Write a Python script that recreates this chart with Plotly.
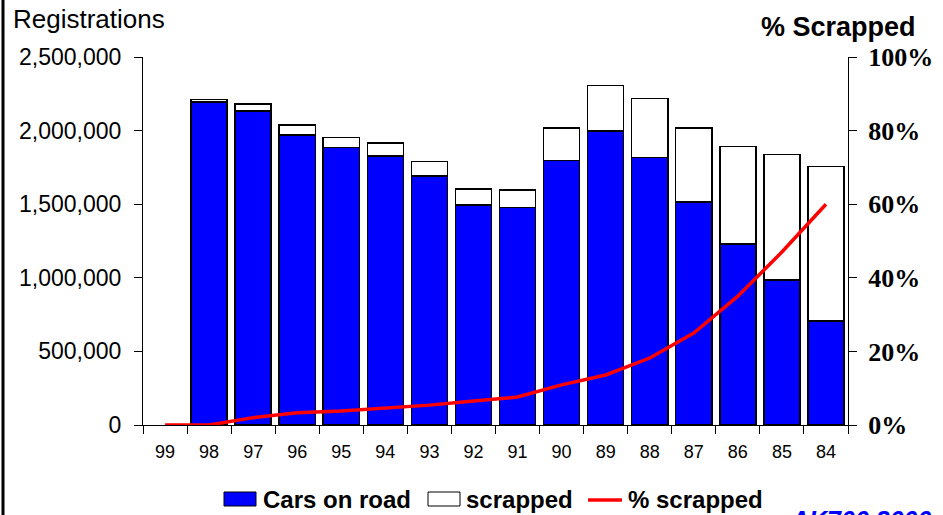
import plotly.graph_objects as go

years = ["99", "98", "97", "96", "95", "94", "93", "92", "91", "90", "89", "88", "87", "86", "85", "84"]
cars_on_road = [None, 2194000, 2133000, 1970000, 1884000, 1827000, 1692000, 1495000, 1476000,
                1798000, 1999000, 1818000, 1515000, 1230000, 985000, 707000]
total_registered = [None, 2212000, 2181000, 2038000, 1954000, 1916000, 1789000, 1603000, 1598000,
                    2018000, 2305000, 2217000, 2018000, 1893000, 1836000, 1755000]
scrapped = [None if t is None else t - c for t, c in zip(total_registered, cars_on_road)]
pct_scrapped = [0.0, 0.0, 0.02, 0.033, 0.038, 0.046, 0.054, 0.065, 0.076, 0.109,
                0.136, 0.182, 0.25, 0.35, 0.47, 0.60]

y_ticks = [0, 500000, 1000000, 1500000, 2000000, 2500000]
y2_ticks = [0, 0.2, 0.4, 0.6, 0.8, 1.0]

W, H = 943, 515
L, R, T, B = 143, 848, 57, 425


def px(x):
    return (x - L) / (R - L)


def py(y):
    return (B - y) / (B - T)


fig = go.Figure()
fig.add_trace(go.Bar(x=years, y=cars_on_road, name="Cars on road",
                     marker=dict(color="#0000FF", line=dict(color="black", width=1.5))))
fig.add_trace(go.Bar(x=years, y=scrapped, name="scrapped",
                     marker=dict(color="white", line=dict(color="black", width=1.5))))
fig.add_trace(go.Scatter(x=years, y=pct_scrapped, name="% scrapped", yaxis="y2", mode="lines",
                         line=dict(color="#FF0000", width=3.5)))

fig.update_layout(
    width=W, height=H,
    margin=dict(l=L, r=W - R, t=T, b=H - B, autoexpand=False),
    barmode="stack", bargap=0.18,
    plot_bgcolor="white", paper_bgcolor="white",
    showlegend=False,
    font=dict(family="Liberation Sans, Arial", color="black"),
    xaxis=dict(type="category", showline=True, linecolor="black", linewidth=1,
               ticks="outside", tickson="boundaries", ticklen=8, tickcolor="black", automargin=False,
               ticklabelstandoff=10,
               tickfont=dict(size=18, family="Liberation Sans, Arial"), showgrid=False),
    yaxis=dict(range=[0, 2500000], tickvals=y_ticks, tickformat=",", showline=True, automargin=False,
               linecolor="black", linewidth=1, ticks="outside", ticklen=8, tickcolor="black",
               ticklabelstandoff=8,
               tickfont=dict(size=23, family="Liberation Sans, Arial"), showgrid=False, zeroline=False),
    yaxis2=dict(range=[0, 1], tickvals=y2_ticks, tickformat=".0%", overlaying="y", side="right",
                showline=True, linecolor="black", linewidth=1, ticks="outside", ticklen=8,
                tickcolor="black", showgrid=False, zeroline=False, automargin=False,
                ticklabelstandoff=6,
                tickfont=dict(size=26, family="Liberation Serif, Times New Roman", weight="bold")),
)

ann = []
ann.append(dict(text="Registrations", x=px(11), y=py(19), xref="paper", yref="paper",
                xanchor="left", yanchor="middle", showarrow=False,
                font=dict(size=26, family="Liberation Sans, Arial")))
ann.append(dict(text="<b>% Scrapped</b>", x=px(838), y=py(27), xref="paper", yref="paper",
                xanchor="center", yanchor="middle", showarrow=False,
                font=dict(size=27, family="Liberation Sans, Arial")))

# manual legend
shapes = []
shapes.append(dict(type="rect", xref="paper", yref="paper", x0=px(224), x1=px(256),
                   y0=py(506), y1=py(492), fillcolor="#0000FF", line=dict(color="black", width=1)))
ann.append(dict(text="<b>Cars on road</b>", x=px(261), y=py(499), xref="paper", yref="paper",
                xanchor="left", yanchor="middle", showarrow=False,
                font=dict(size=24, family="Liberation Sans, Arial")))
shapes.append(dict(type="rect", xref="paper", yref="paper", x0=px(428), x1=px(460),
                   y0=py(506), y1=py(492), fillcolor="white", line=dict(color="black", width=1)))
ann.append(dict(text="<b>scrapped</b>", x=px(464), y=py(499), xref="paper", yref="paper",
                xanchor="left", yanchor="middle", showarrow=False,
                font=dict(size=24, family="Liberation Sans, Arial")))
shapes.append(dict(type="line", xref="paper", yref="paper", x0=px(588), x1=px(622),
                   y0=py(500), y1=py(500), line=dict(color="#FF0000", width=3.5)))
ann.append(dict(text="<b>% scrapped</b>", x=px(626), y=py(499), xref="paper", yref="paper",
                xanchor="left", yanchor="middle", showarrow=False,
                font=dict(size=24, family="Liberation Sans, Arial")))

# left frame line
shapes.append(dict(type="line", xref="paper", yref="paper", x0=px(3), x1=px(3),
                   y0=py(H + 5), y1=py(-5), line=dict(color="black", width=3)))

# clipped watermark at bottom right
ann.append(dict(text="<i><b><u>AK700 2000</u></b></i>", x=px(788), y=py(504), xref="paper", yref="paper",
                xanchor="left", yanchor="top", showarrow=False,
                font=dict(size=25, family="Liberation Sans, Arial", color="#0000FF")))

fig.update_layout(annotations=ann, shapes=shapes)
fig.write_html("out.html", config={"displayModeBar": False},
               post_script="document.body.style.margin='0';document.body.style.overflow='hidden';")
